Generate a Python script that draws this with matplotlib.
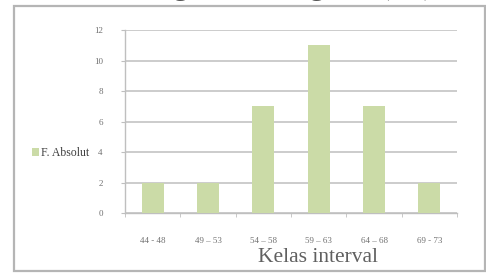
import matplotlib
matplotlib.use('Agg')
import matplotlib.pyplot as plt
from matplotlib.patches import Rectangle

kelas = ['44 - 48', '49 \u2013 53', '54 \u2013 58', '59 \u2013 63', '64 \u2013 68', '69 - 73']
f_absolut = [2, 2, 7, 11, 7, 2]
y_ticks = [0, 2, 4, 6, 8, 10, 12]

bar_color = '#cbdba7'
grid_color = '#bfbfbf'
serif = ['Liberation Serif', 'DejaVu Serif']

fig = plt.figure(figsize=(4.86, 2.73), dpi=100)
fig.patch.set_facecolor('white')

# outer frame of the chart box
fig.patches.append(Rectangle((14 / 486, 2 / 273), 471 / 486, 265 / 273,
                             transform=fig.transFigure, fill=False,
                             edgecolor='#b5b5b5', linewidth=1.6))

# title cut off at top edge, only descenders visible
fig.text(0.265, 1 + 6 / 273, 'Diagram Histogram ( fi )', fontsize=22,
         family=serif, color='#555555', ha='left', va='baseline')

ax = fig.add_axes([125 / 486, 1 - 213 / 273, 332 / 486, 183 / 273])
x = list(range(len(kelas)))
ax.bar(x, f_absolut, width=0.4, color=bar_color, zorder=3, label='F. Absolut')

ax.set_xlim(-0.5, len(kelas) - 0.5)
ax.set_ylim(0, 12)
ax.set_yticks(y_ticks)
ax.set_yticklabels([str(v) for v in y_ticks], family=serif, fontsize=6.5, color='#707070')
ax.set_xticks(x)
ax.set_xticklabels(kelas, family=serif, fontsize=6.5, color='#707070')
ax.set_xticks([i - 0.5 for i in range(len(kelas) + 1)], minor=True)
ax.tick_params(axis='x', which='major', length=0, pad=17)
ax.tick_params(axis='x', which='minor', length=3, color=grid_color, direction='out')
ax.tick_params(axis='y', length=3, color=grid_color, pad=13)
ax.yaxis.grid(True, color=grid_color, linewidth=1.1, zorder=0)
ax.set_axisbelow(True)

for s in ['top', 'right']:
    ax.spines[s].set_visible(False)
for s in ['left', 'bottom']:
    ax.spines[s].set_color(grid_color)
    ax.spines[s].set_linewidth(1.0)

fig.text(318 / 486, 1 - 257 / 273, 'Kelas interval', fontsize=15.5, family=serif,
         color='#606060', ha='center', va='center')

fig.legend(loc='center left', bbox_to_anchor=(21 / 486, 1 - 153 / 273),
           frameon=False, prop={'family': serif, 'size': 8.5},
           handlelength=0.6, handleheight=0.6, handletextpad=0.2,
           labelcolor='#404040')

fig.savefig('out.png', dpi=100)
